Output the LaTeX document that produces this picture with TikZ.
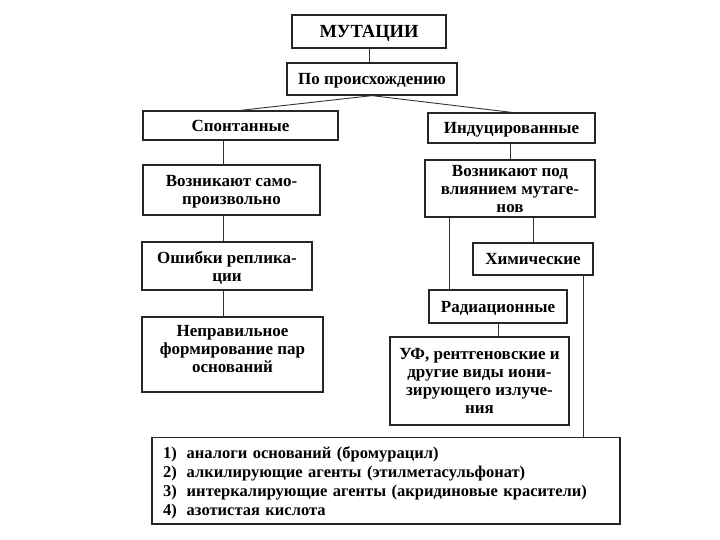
\documentclass[tikz,border=0pt]{standalone}
\usepackage{fontspec}
\setmainfont{Liberation Serif}
\usetikzlibrary{positioning}
\tikzset{
  box/.style={
    draw=black!85,
    line width=1.3pt,
    rectangle,
    align=center,
    inner sep=1pt,
    text depth=0pt,
    font=\bfseries\fontsize{17}{18}\selectfont
  },
  title box/.style={
    box,
    font=\bfseries\fontsize{18.5}{20}\selectfont
  },
  list box/.style={
    draw=black!85,
    line width=1.3pt,
    rectangle,
    align=left,
    inner xsep=11pt,
    inner ysep=1pt,
    text height=16.5pt,
    font=\bfseries\fontsize{16.5}{19}\selectfont
  },
  link/.style={
    draw=black!80,
    line width=0.9pt
  }
}

\begin{document}
\begin{tikzpicture}[x=1pt, y=-1pt]
    \useasboundingbox (0,0) rectangle (720,540);

    % 1. Вершина схемы
    \node[title box, minimum width=154, minimum height=33] (mut) at (369, 31.5) {МУТАЦИИ};
    \node[box, minimum width=170, minimum height=32] (orig) at (372, 79) {По происхождению};

    % 2. Левая ветвь
    \node[box, minimum width=195, minimum height=29] (spont) at (240.5, 125.5) {Спонтанные};
    \node[box, minimum width=177, minimum height=50] (spself) at (231.5, 190) {Возникают само-\\произвольно};
    \node[box, minimum width=170, minimum height=48] (repl) at (227, 266) {Ошибки реплика-\\ции};
    \node[box, minimum width=181, minimum height=75, text depth=11pt] (pair) at (232.5, 354.5) {Неправильное\\формирование пар\\оснований};

    % 3. Правая ветвь
    \node[box, minimum width=167, minimum height=30] (ind) at (511.5, 128) {Индуцированные};
    \node[box, minimum width=170, minimum height=57, text depth=-3pt] (indmut) at (510, 188.5) {Возникают под\\влиянием мутаге-\\нов};
    \node[box, minimum width=120, minimum height=32] (chem) at (533, 259) {Химические};
    \node[box, minimum width=138, minimum height=33] (rad) at (498, 306.5) {Радиационные};
    \node[box, minimum width=179, minimum height=88] (uv) at (479.5, 381) {УФ, рентгеновские и\\другие виды иони-\\зирующего излуче-\\ния};

    % 4. Список химических мутагенов
    \node[list box, text width=446, minimum height=86.5] (list) at (386, 480.75)
      {1)\hspace{10pt}аналоги оснований (бромурацил)\\
       2)\hspace{10pt}алкилирующие агенты (этилметасульфонат)\\
       3)\hspace{10pt}интеркалирующие агенты (акридиновые красители)\\
       4)\hspace{10pt}азотистая кислота};

    % 5. Связи
    \coordinate (lx) at (223, 0);
    \coordinate (radx) at (449, 0);
    \coordinate (chemx) at (583, 0);
    \draw[link] (mut.south) -- (mut.south |- orig.north);
    \draw[link] (orig.south) -- (spont.north);
    \draw[link] (orig.south) -- (ind.north);
    \draw[link] (spont.south -| lx) -- (spself.north -| lx);
    \draw[link] (spself.south -| lx) -- (repl.north -| lx);
    \draw[link] (repl.south -| lx) -- (pair.north -| lx);
    \draw[link] (ind.south -| indmut.north) -- (indmut.north);
    \draw[link] (indmut.south -| chem.north) -- (chem.north);
    \draw[link] (indmut.south -| radx) -- (rad.north -| radx);
    \draw[link] (rad.south) -- (rad.south |- uv.north);
    \draw[link] (chem.south -| chemx) -- (list.north -| chemx);

\end{tikzpicture}
\end{document}
